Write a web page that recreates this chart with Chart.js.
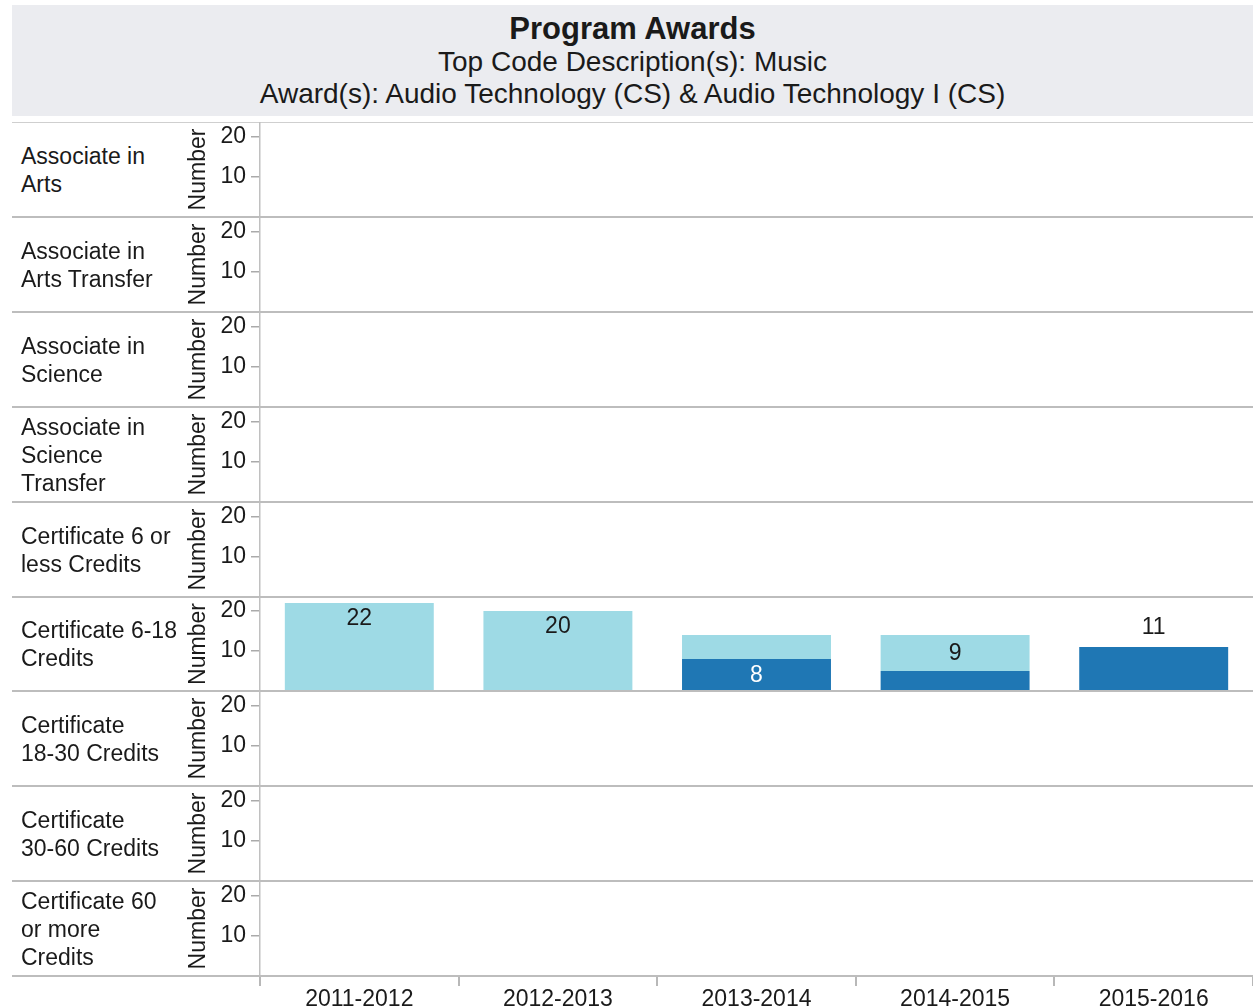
<!DOCTYPE html>
<html>
<head>
<meta charset="utf-8">
<script src="https://cdn.jsdelivr.net/npm/chart.js@4.4.1/dist/chart.umd.min.js"></script>
<style>
    body { margin: 0; background: #fff; font-family: "Liberation Sans", Arial, sans-serif; color: #1a1a1a; }
    #page { position: relative; width: 1253px; height: 1008px; overflow: hidden; }
    #head { position: absolute; left: 12px; top: 5px; width: 1241px; height: 111px; background: #ebecf0; }
    .hl { position: absolute; left: 0; width: 100%; text-align: center; white-space: nowrap; }
    .rowLabel { position: absolute; left: 21px; width: 165px; display: flex; align-items: center; font-size: 23px; line-height: 28px; }
    .sep { position: absolute; left: 12px; width: 1241px; background: #bdbdbd; }
    .plot { position: absolute; left: 185px; }
</style>
</head>
<body>
<div id="page">
    <div id="head">
        <div class="hl" style="top:6px;font-size:31px;font-weight:bold;line-height:36px;">Program Awards</div>
        <div class="hl" style="top:41px;font-size:28px;line-height:32px;">Top Code Description(s): Music</div>
        <div class="hl" style="top:73px;font-size:28px;line-height:32px;">Award(s): Audio Technology (CS) &amp; Audio Technology I (CS)</div>
    </div>
</div>
<script>
document.addEventListener("DOMContentLoaded", function () {
    // data
    const years = ["2011-2012", "2012-2013", "2013-2014", "2014-2015", "2015-2016"];
    const awardTypes = [
        ["Associate in", "Arts"],
        ["Associate in", "Arts Transfer"],
        ["Associate in", "Science"],
        ["Associate in", "Science", "Transfer"],
        ["Certificate 6 or", "less Credits"],
        ["Certificate 6-18", "Credits"],
        ["Certificate", "18-30 Credits"],
        ["Certificate", "30-60 Credits"],
        ["Certificate 60", "or more", "Credits"]
    ];
    const awardsRow = 5; // only Certificate 6-18 Credits has awards
    const audioTechI = [null, null, 8, 5, 11];     // Audio Technology I (CS)
    const audioTech = [22, 20, 6, 9, null];        // Audio Technology (CS)
    const audioTechILabels = [null, null, 8, null, 11];
    const audioTechLabels = [22, 20, null, 9, null];
    const yTicks = [10, 20];

    const FONT = '"Liberation Sans", Arial, sans-serif';
    Chart.defaults.font.family = FONT;
    Chart.defaults.color = "#1a1a1a";

    const page = document.getElementById("page");
    const TOP = 122;
    const ROW_H = 94.9;
    const AXIS_H = 32;

    // top rule
    const topLine = document.createElement("div");
    topLine.className = "sep";
    topLine.style.top = TOP + "px";
    topLine.style.height = "1px";
    topLine.style.background = "#cfcfcf";
    page.appendChild(topLine);

    // draws value labels on the stacked segments
    const barLabels = {
        id: "barLabels",
        afterDatasetsDraw(chart) {
            const ctx = chart.ctx;
            ctx.save();
            ctx.font = "23px " + FONT;
            ctx.textAlign = "center";
            ctx.textBaseline = "middle";
            chart.data.datasets.forEach((ds, di) => {
                const meta = chart.getDatasetMeta(di);
                (ds.valueLabels || []).forEach((lab, i) => {
                    if (lab === null || lab === undefined) return;
                    const el = meta.data[i];
                    let y;
                    ctx.fillStyle = "#1a1a1a";
                    if (di === 0) {
                        if (audioTech[i] === null) {
                            y = el.y - 19; // nothing stacked above, put it on top
                        } else {
                            y = (el.y + el.base) / 2 + 1;
                            ctx.fillStyle = "#ffffff";
                        }
                    } else {
                        y = (el.base - el.y) > 50 ? el.y + 16 : (el.y + el.base) / 2 + 1;
                    }
                    ctx.fillText(String(lab), el.x, y);
                });
            });
            ctx.restore();
        }
    };

    awardTypes.forEach(function (lines, r) {
        const rowTop = Math.round(TOP + r * ROW_H);
        const rowBottom = Math.round(TOP + (r + 1) * ROW_H);
        const h = rowBottom - rowTop;
        const isLast = r === awardTypes.length - 1;

        const lab = document.createElement("div");
        lab.className = "rowLabel";
        lab.style.top = rowTop + "px";
        lab.style.height = h + "px";
        lab.innerHTML = "<div>" + lines.join("<br>") + "</div>";
        page.appendChild(lab);

        const box = document.createElement("div");
        box.className = "plot";
        box.style.top = rowTop + "px";
        const canvas = document.createElement("canvas");
        canvas.width = 1068;
        canvas.height = h + (isLast ? AXIS_H : 0);
        box.appendChild(canvas);
        page.appendChild(box);

        const sep = document.createElement("div");
        sep.className = "sep";
        sep.style.top = (rowBottom - 1) + "px";
        sep.style.height = "2px";
        page.appendChild(sep);

        const hasData = r === awardsRow;

        new Chart(canvas.getContext("2d"), {
            type: "bar",
            data: {
                labels: years,
                datasets: [{
                    label: "Audio Technology I (CS)",
                    data: hasData ? audioTechI : [],
                    valueLabels: hasData ? audioTechILabels : [],
                    backgroundColor: "#1f77b4"
                }, {
                    label: "Audio Technology (CS)",
                    data: hasData ? audioTech : [],
                    valueLabels: hasData ? audioTechLabels : [],
                    backgroundColor: "#9edae5"
                }]
            },
            options: {
                responsive: false,
                animation: false,
                layout: { padding: 0 },
                categoryPercentage: 1,
                barPercentage: 0.75,
                plugins: {
                    legend: { display: false },
                    tooltip: { enabled: false }
                },
                scales: {
                    x: {
                        stacked: true,
                        display: isLast,
                        offset: true,
                        grid: { drawOnChartArea: false, offset: true, tickLength: 10, color: "#b8b8b8", lineWidth: 2 },
                        border: { display: false },
                        ticks: { font: { size: 23 }, color: "#1a1a1a", padding: 0, maxRotation: 0, autoSkip: false },
                        afterFit: function (s) {
                            if (!isLast) return;
                            s.height = AXIS_H; s.paddingLeft = 0; s.paddingRight = 0;
                        }
                    },
                    y: {
                        stacked: true,
                        min: 0,
                        max: h / 4,
                        afterBuildTicks: function (s) { s.ticks = yTicks.map(v => ({ value: v })); },
                        ticks: { font: { size: 23 }, color: "#1a1a1a", padding: 5 },
                        grid: { drawOnChartArea: false, tickLength: 9, color: "#aaaaaa", lineWidth: 1.5 },
                        border: { color: "#c0c0c0", width: 1.5 },
                        title: { display: true, text: "Number", font: { size: 23 }, color: "#1a1a1a", padding: 0 },
                        afterFit: function (s) { s.width = 75; s.paddingTop = 0; s.paddingBottom = 0; }
                    }
                }
            },
            plugins: [barLabels]
        });
    });
});
</script>
</body>
</html>
